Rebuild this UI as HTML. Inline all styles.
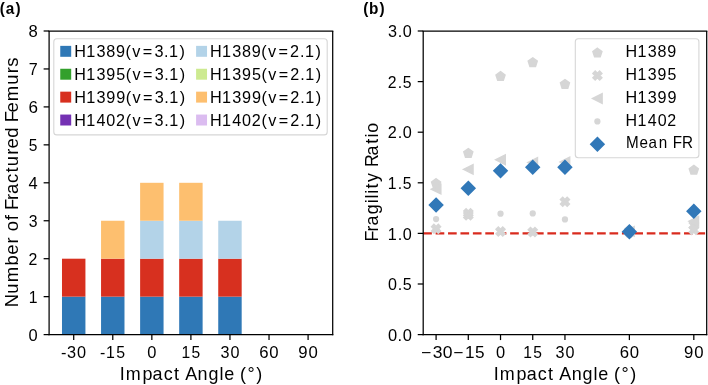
<!DOCTYPE html>
<html><head><meta charset="utf-8"><style>
html,body{margin:0;padding:0;background:#fff;}
svg{display:block;will-change:transform;filter:blur(0.3px);}
text{font-family:"Liberation Sans",sans-serif;}
</style></head><body>
<svg width="708" height="385" viewBox="0 0 708 385">
<rect width="708" height="385" fill="#fff"/>
<rect x="61.99" y="296.65" width="23.44" height="37.95" fill="#2f78b6"/>
<rect x="61.99" y="258.70" width="23.44" height="37.95" fill="#d7301f"/>
<rect x="101.05" y="296.65" width="23.44" height="37.95" fill="#2f78b6"/>
<rect x="101.05" y="258.70" width="23.44" height="37.95" fill="#d7301f"/>
<rect x="101.05" y="220.75" width="23.44" height="37.95" fill="#fdbf6f"/>
<rect x="140.12" y="296.65" width="23.44" height="37.95" fill="#2f78b6"/>
<rect x="140.12" y="258.70" width="23.44" height="37.95" fill="#d7301f"/>
<rect x="140.12" y="220.75" width="23.44" height="37.95" fill="#b3d3e8"/>
<rect x="140.12" y="182.80" width="23.44" height="37.95" fill="#fdbf6f"/>
<rect x="179.18" y="296.65" width="23.44" height="37.95" fill="#2f78b6"/>
<rect x="179.18" y="258.70" width="23.44" height="37.95" fill="#d7301f"/>
<rect x="179.18" y="220.75" width="23.44" height="37.95" fill="#b3d3e8"/>
<rect x="179.18" y="182.80" width="23.44" height="37.95" fill="#fdbf6f"/>
<rect x="218.24" y="296.65" width="23.44" height="37.95" fill="#2f78b6"/>
<rect x="218.24" y="258.70" width="23.44" height="37.95" fill="#d7301f"/>
<rect x="218.24" y="220.75" width="23.44" height="37.95" fill="#b3d3e8"/>
<rect x="53.80" y="38.80" width="273.40" height="96.10" rx="3" fill="#fff" fill-opacity="0.8" stroke="#d6d6d6" stroke-width="1.1"/>
<rect x="60.25" y="45.86" width="10.94" height="10.94" fill="#2f78b6"/>
<text transform="translate(74.19,56.80) scale(1.0084,1)" x="0.01 11.90 22.04 31.81 41.43 50.88 57.58 67.99 79.56 89.10 94.08 104.51" y="0" font-size="16.1" fill="#000">H1389(v=3.1)</text>
<rect x="60.25" y="68.76" width="10.94" height="10.94" fill="#33a02c"/>
<text transform="translate(74.19,79.70) scale(1.0018,1)" x="0.05 12.01 22.21 32.00 41.97 51.49 58.24 68.72 80.36 89.95 94.98 105.46" y="0" font-size="16.1" fill="#000">H1395(v=3.1)</text>
<rect x="60.25" y="91.66" width="10.94" height="10.94" fill="#d7301f"/>
<text transform="translate(74.19,102.60) scale(1.0105,1)" x="-0.00 11.86 21.98 31.69 41.58 51.02 57.70 68.09 79.63 89.16 94.13 104.53" y="0" font-size="16.1" fill="#000">H1399(v=3.1)</text>
<rect x="60.25" y="114.56" width="10.94" height="10.94" fill="#7431b3"/>
<text transform="translate(74.19,125.50) scale(1.0048,1)" x="0.03 11.96 22.11 31.94 41.56 51.20 57.93 68.38 79.98 89.55 94.56 105.01" y="0" font-size="16.1" fill="#000">H1402(v=3.1)</text>
<rect x="196.10" y="45.86" width="10.94" height="10.94" fill="#b3d3e8"/>
<text transform="translate(210.04,56.80) scale(1.0088,1)" x="0.01 11.89 22.03 31.80 41.41 50.86 57.56 67.96 79.30 89.18 94.17 104.58" y="0" font-size="16.1" fill="#000">H1389(v=2.1)</text>
<rect x="196.10" y="68.76" width="10.94" height="10.94" fill="#cdea90"/>
<text transform="translate(210.04,79.70) scale(1.0022,1)" x="0.04 12.00 22.20 31.99 41.95 51.47 58.21 68.69 80.10 90.04 95.07 105.54" y="0" font-size="16.1" fill="#000">H1395(v=2.1)</text>
<rect x="196.10" y="91.66" width="10.94" height="10.94" fill="#fdbf6f"/>
<text transform="translate(210.04,102.60) scale(1.0109,1)" x="-0.01 11.86 21.97 31.67 41.56 51.00 57.68 68.06 79.37 89.24 94.21 104.61" y="0" font-size="16.1" fill="#000">H1399(v=2.1)</text>
<rect x="196.10" y="114.56" width="10.94" height="10.94" fill="#dbbcf0"/>
<text transform="translate(210.04,125.50) scale(1.0052,1)" x="0.03 11.95 22.10 31.93 41.55 51.18 57.90 68.35 79.72 89.64 94.65 105.09" y="0" font-size="16.1" fill="#000">H1402(v=2.1)</text>
<line x1="49.10" y1="31.00" x2="49.10" y2="335.20" stroke="#000" stroke-width="1.25"/>
<line x1="332.70" y1="31.00" x2="332.70" y2="335.20" stroke="#000" stroke-width="1.25"/>
<line x1="48.50" y1="31.00" x2="333.30" y2="31.00" stroke="#000" stroke-width="1.25"/>
<line x1="48.50" y1="334.60" x2="333.30" y2="334.60" stroke="#000" stroke-width="1.25"/>
<line x1="43.63" y1="334.60" x2="49.10" y2="334.60" stroke="#000" stroke-width="1.25"/>
<text transform="translate(28.22,340.70) scale(1.0230,1)" x="0.38" y="0" font-size="16.1" fill="#000">0</text>
<line x1="43.63" y1="296.65" x2="49.10" y2="296.65" stroke="#000" stroke-width="1.25"/>
<text transform="translate(28.22,302.75) scale(0.9771,1)" x="0.53" y="0" font-size="16.1" fill="#000">1</text>
<line x1="43.63" y1="258.70" x2="49.10" y2="258.70" stroke="#000" stroke-width="1.25"/>
<text transform="translate(28.22,264.80) scale(0.9861,1)" x="0.35" y="0" font-size="16.1" fill="#000">2</text>
<line x1="43.63" y1="220.75" x2="49.10" y2="220.75" stroke="#000" stroke-width="1.25"/>
<text transform="translate(28.22,226.85) scale(0.9825,1)" x="0.60" y="0" font-size="16.1" fill="#000">3</text>
<line x1="43.63" y1="182.80" x2="49.10" y2="182.80" stroke="#000" stroke-width="1.25"/>
<text transform="translate(28.22,188.90) scale(1.0232,1)" x="0.38" y="0" font-size="16.1" fill="#000">4</text>
<line x1="43.63" y1="144.85" x2="49.10" y2="144.85" stroke="#000" stroke-width="1.25"/>
<text transform="translate(28.22,150.95) scale(0.9655,1)" x="0.60" y="0" font-size="16.1" fill="#000">5</text>
<line x1="43.63" y1="106.90" x2="49.10" y2="106.90" stroke="#000" stroke-width="1.25"/>
<text transform="translate(28.22,113.00) scale(1.0588,1)" x="0.21" y="0" font-size="16.1" fill="#000">6</text>
<line x1="43.63" y1="68.95" x2="49.10" y2="68.95" stroke="#000" stroke-width="1.25"/>
<text transform="translate(28.22,75.05) scale(1.0007,1)" x="0.46" y="0" font-size="16.1" fill="#000">7</text>
<line x1="43.63" y1="31.00" x2="49.10" y2="31.00" stroke="#000" stroke-width="1.25"/>
<text transform="translate(28.22,37.10) scale(1.0341,1)" x="0.33" y="0" font-size="16.1" fill="#000">8</text>
<line x1="73.71" y1="334.60" x2="73.71" y2="340.07" stroke="#000" stroke-width="1.25"/>
<text transform="translate(60.99,357.50) scale(1.0117,1)" x="0.11 6.01 15.75" y="0" font-size="16.1" fill="#000">-30</text>
<line x1="112.77" y1="334.60" x2="112.77" y2="340.07" stroke="#000" stroke-width="1.25"/>
<text transform="translate(99.93,357.50) scale(0.9870,1)" x="0.18 6.18 16.45" y="0" font-size="16.1" fill="#000">-15</text>
<line x1="151.84" y1="334.60" x2="151.84" y2="340.07" stroke="#000" stroke-width="1.25"/>
<text transform="translate(146.87,357.50) scale(1.0230,1)" x="0.38" y="0" font-size="16.1" fill="#000">0</text>
<line x1="190.90" y1="334.60" x2="190.90" y2="340.07" stroke="#000" stroke-width="1.25"/>
<text transform="translate(180.87,357.50) scale(0.9710,1)" x="0.56 11.00" y="0" font-size="16.1" fill="#000">15</text>
<line x1="229.96" y1="334.60" x2="229.96" y2="340.07" stroke="#000" stroke-width="1.25"/>
<text transform="translate(220.06,357.50) scale(1.0028,1)" x="0.50 10.32" y="0" font-size="16.1" fill="#000">30</text>
<line x1="269.03" y1="334.60" x2="269.03" y2="340.07" stroke="#000" stroke-width="1.25"/>
<text transform="translate(259.06,357.50) scale(1.0406,1)" x="0.30 9.91" y="0" font-size="16.1" fill="#000">60</text>
<line x1="308.09" y1="334.60" x2="308.09" y2="340.07" stroke="#000" stroke-width="1.25"/>
<text transform="translate(298.12,357.50) scale(1.0396,1)" x="0.25 9.92" y="0" font-size="16.1" fill="#000">90</text>
<text transform="translate(119.73,379.90) scale(1.0268,1)" x="0.04 5.90 22.10 32.02 42.76 52.79 58.79 63.80 75.83 86.42 97.17 101.73 111.99 117.03 124.38 132.88" y="0" font-size="17.5" fill="#000">Impact Angle (°)</text>
<text transform="translate(18.40,182.40) rotate(-90) translate(-124.54,0) scale(1.0569,1)" x="-0.24 12.55 23.38 39.19 49.49 60.10 66.39 71.55 82.12 87.32 91.66 101.26 106.88 117.34 127.14 133.07 143.96 149.90 159.99 170.34 174.69 183.96 194.52 210.18 221.07 227.18" y="0" font-size="17.5" fill="#000">Number of Fractured Femurs</text>
<text transform="scale(0.92,1)" x="-0.25 6.25 16.87" y="13.5" font-size="16.7" font-weight="bold" fill="#000">(a)</text>
<line x1="423.20" y1="233.40" x2="706.70" y2="233.40" stroke="#d92b1e" stroke-width="2.34" stroke-dasharray="8.67 3.75"/>
<polygon points="436.09,178.82 440.55,182.06 438.84,187.30 433.33,187.30 431.63,182.06" fill="#d6d6d6" stroke="#d6d6d6" stroke-width="1.5625" stroke-linejoin="miter"/>
<polygon points="468.30,148.66 472.76,151.90 471.06,157.15 465.55,157.15 463.84,151.90" fill="#d6d6d6" stroke="#d6d6d6" stroke-width="1.5625" stroke-linejoin="miter"/>
<polygon points="500.52,71.75 504.98,74.99 503.27,80.23 497.76,80.23 496.06,74.99" fill="#d6d6d6" stroke="#d6d6d6" stroke-width="1.5625" stroke-linejoin="miter"/>
<polygon points="532.73,57.88 537.19,61.13 535.49,66.37 529.98,66.37 528.27,61.13" fill="#d6d6d6" stroke="#d6d6d6" stroke-width="1.5625" stroke-linejoin="miter"/>
<polygon points="564.95,79.64 569.41,82.88 567.71,88.13 562.19,88.13 560.49,82.88" fill="#d6d6d6" stroke="#d6d6d6" stroke-width="1.5625" stroke-linejoin="miter"/>
<polygon points="629.38,225.67 633.84,228.91 632.14,234.16 626.63,234.16 624.92,228.91" fill="#d6d6d6" stroke="#d6d6d6" stroke-width="1.5625" stroke-linejoin="miter"/>
<polygon points="693.81,165.46 698.27,168.70 696.57,173.94 691.06,173.94 689.35,168.70" fill="#d6d6d6" stroke="#d6d6d6" stroke-width="1.5625" stroke-linejoin="miter"/>
<polygon points="438.30,233.27 440.51,231.06 438.30,228.85 440.51,226.64 438.30,224.43 436.09,226.64 433.88,224.43 431.67,226.64 433.88,228.85 431.67,231.06 433.88,233.27 436.09,231.06" fill="#d6d6d6" stroke="#d6d6d6" stroke-width="1.5625" stroke-linejoin="miter"/>
<polygon points="470.51,217.58 472.72,215.37 470.51,213.16 472.72,210.95 470.51,208.74 468.30,210.95 466.09,208.74 463.88,210.95 466.09,213.16 463.88,215.37 466.09,217.58 468.30,215.37" fill="#d6d6d6" stroke="#d6d6d6" stroke-width="1.5625" stroke-linejoin="miter"/>
<polygon points="470.51,219.60 472.72,217.39 470.51,215.18 472.72,212.97 470.51,210.76 468.30,212.97 466.09,210.76 463.88,212.97 466.09,215.18 463.88,217.39 466.09,219.60 468.30,217.39" fill="#d6d6d6" stroke="#d6d6d6" stroke-width="1.5625" stroke-linejoin="miter"/>
<polygon points="502.73,236.00 504.94,233.79 502.73,231.58 504.94,229.37 502.73,227.16 500.52,229.37 498.31,227.16 496.10,229.37 498.31,231.58 496.10,233.79 498.31,236.00 500.52,233.79" fill="#d6d6d6" stroke="#d6d6d6" stroke-width="1.5625" stroke-linejoin="miter"/>
<polygon points="534.94,236.40 537.15,234.19 534.94,231.98 537.15,229.77 534.94,227.56 532.73,229.77 530.52,227.56 528.31,229.77 530.52,231.98 528.31,234.19 530.52,236.40 532.73,234.19" fill="#d6d6d6" stroke="#d6d6d6" stroke-width="1.5625" stroke-linejoin="miter"/>
<polygon points="567.16,206.25 569.37,204.04 567.16,201.83 569.37,199.62 567.16,197.41 564.95,199.62 562.74,197.41 560.53,199.62 562.74,201.83 560.53,204.04 562.74,206.25 564.95,204.04" fill="#d6d6d6" stroke="#d6d6d6" stroke-width="1.5625" stroke-linejoin="miter"/>
<polygon points="631.59,236.81 633.80,234.60 631.59,232.39 633.80,230.18 631.59,227.97 629.38,230.18 627.17,227.97 624.96,230.18 627.17,232.39 624.96,234.60 627.17,236.81 629.38,234.60" fill="#d6d6d6" stroke="#d6d6d6" stroke-width="1.5625" stroke-linejoin="miter"/>
<polygon points="696.02,229.72 698.23,227.51 696.02,225.30 698.23,223.09 696.02,220.88 693.81,223.09 691.60,220.88 689.39,223.09 691.60,225.30 689.39,227.51 691.60,229.72 693.81,227.51" fill="#d6d6d6" stroke="#d6d6d6" stroke-width="1.5625" stroke-linejoin="miter"/>
<polygon points="696.02,234.28 698.23,232.07 696.02,229.86 698.23,227.65 696.02,225.44 693.81,227.65 691.60,225.44 689.39,227.65 691.60,229.86 689.39,232.07 691.60,234.28 693.81,232.07" fill="#d6d6d6" stroke="#d6d6d6" stroke-width="1.5625" stroke-linejoin="miter"/>
<polygon points="431.40,189.18 440.77,184.49 440.77,193.86" fill="#d6d6d6" stroke="#d6d6d6" stroke-width="1.5625" stroke-linejoin="miter"/>
<polygon points="463.61,169.34 472.99,164.65 472.99,174.03" fill="#d6d6d6" stroke="#d6d6d6" stroke-width="1.5625" stroke-linejoin="miter"/>
<polygon points="495.83,159.73 505.21,155.04 505.21,164.41" fill="#d6d6d6" stroke="#d6d6d6" stroke-width="1.5625" stroke-linejoin="miter"/>
<polygon points="528.05,162.56 537.42,157.87 537.42,167.25" fill="#d6d6d6" stroke="#d6d6d6" stroke-width="1.5625" stroke-linejoin="miter"/>
<polygon points="560.26,162.05 569.64,157.37 569.64,166.74" fill="#d6d6d6" stroke="#d6d6d6" stroke-width="1.5625" stroke-linejoin="miter"/>
<polygon points="624.69,231.38 634.07,226.69 634.07,236.06" fill="#d6d6d6" stroke="#d6d6d6" stroke-width="1.5625" stroke-linejoin="miter"/>
<polygon points="689.13,221.26 698.50,216.57 698.50,225.94" fill="#d6d6d6" stroke="#d6d6d6" stroke-width="1.5625" stroke-linejoin="miter"/>
<circle cx="436.09" cy="219.03" r="3.13" fill="#d6d6d6"/>
<circle cx="468.30" cy="215.18" r="3.13" fill="#d6d6d6"/>
<circle cx="500.52" cy="213.67" r="3.13" fill="#d6d6d6"/>
<circle cx="532.73" cy="213.46" r="3.13" fill="#d6d6d6"/>
<circle cx="564.95" cy="219.43" r="3.13" fill="#d6d6d6"/>
<circle cx="629.38" cy="232.39" r="3.13" fill="#d6d6d6"/>
<circle cx="693.81" cy="228.34" r="3.13" fill="#d6d6d6"/>
<polygon points="436.09,198.33 442.72,204.96 436.09,211.59 429.46,204.96" fill="#3178b8" stroke="#3178b8" stroke-width="1.5625" stroke-linejoin="miter"/>
<polygon points="468.30,181.64 474.93,188.26 468.30,194.89 461.67,188.26" fill="#3178b8" stroke="#3178b8" stroke-width="1.5625" stroke-linejoin="miter"/>
<polygon points="500.52,164.23 507.15,170.86 500.52,177.49 493.89,170.86" fill="#3178b8" stroke="#3178b8" stroke-width="1.5625" stroke-linejoin="miter"/>
<polygon points="532.73,160.59 539.36,167.22 532.73,173.84 526.10,167.22" fill="#3178b8" stroke="#3178b8" stroke-width="1.5625" stroke-linejoin="miter"/>
<polygon points="564.95,160.59 571.58,167.22 564.95,173.84 558.32,167.22" fill="#3178b8" stroke="#3178b8" stroke-width="1.5625" stroke-linejoin="miter"/>
<polygon points="629.38,225.05 636.01,231.68 629.38,238.31 622.75,231.68" fill="#3178b8" stroke="#3178b8" stroke-width="1.5625" stroke-linejoin="miter"/>
<polygon points="693.81,204.61 700.44,211.24 693.81,217.87 687.18,211.24" fill="#3178b8" stroke="#3178b8" stroke-width="1.5625" stroke-linejoin="miter"/>
<rect x="575.30" y="38.80" width="123.60" height="119.00" rx="3" fill="#fff" fill-opacity="0.8" stroke="#d6d6d6" stroke-width="1.1"/>
<polygon points="597.40,48.31 601.86,51.55 600.16,56.79 594.64,56.79 592.94,51.55" fill="#d6d6d6" stroke="#d6d6d6" stroke-width="1.5625" stroke-linejoin="miter"/>
<text transform="translate(625.50,56.80) scale(1.0020,1)" x="0.05 12.00 22.21 32.04 41.72" y="0" font-size="16.1" fill="#000">H1389</text>
<polygon points="599.61,80.02 601.82,77.81 599.61,75.60 601.82,73.39 599.61,71.18 597.40,73.39 595.19,71.18 592.98,73.39 595.19,75.60 592.98,77.81 595.19,80.02 597.40,77.81" fill="#d6d6d6" stroke="#d6d6d6" stroke-width="1.5625" stroke-linejoin="miter"/>
<text transform="translate(625.50,79.70) scale(0.9885,1)" x="0.13 12.23 22.57 32.49 42.60" y="0" font-size="16.1" fill="#000">H1395</text>
<polygon points="592.71,98.50 602.09,93.81 602.09,103.19" fill="#d6d6d6" stroke="#d6d6d6" stroke-width="1.5625" stroke-linejoin="miter"/>
<text transform="translate(625.50,102.60) scale(1.0062,1)" x="0.02 11.93 22.10 31.84 41.78" y="0" font-size="16.1" fill="#000">H1399</text>
<circle cx="597.40" cy="121.40" r="3.13" fill="#d6d6d6"/>
<text transform="translate(625.50,125.50) scale(0.9947,1)" x="0.09 12.12 22.38 32.31 42.03" y="0" font-size="16.1" fill="#000">H1402</text>
<polygon points="597.40,137.67 604.03,144.30 597.40,150.93 590.77,144.30" fill="#3178b8" stroke="#3178b8" stroke-width="1.5625" stroke-linejoin="miter"/>
<text transform="translate(625.50,148.40) scale(0.9463,1)" x="0.42 14.77 24.42 35.27 45.30 50.02 59.78" y="0" font-size="16.1" fill="#000">Mean FR</text>
<line x1="423.20" y1="31.00" x2="423.20" y2="335.20" stroke="#000" stroke-width="1.25"/>
<line x1="706.70" y1="31.00" x2="706.70" y2="335.20" stroke="#000" stroke-width="1.25"/>
<line x1="422.60" y1="31.00" x2="707.30" y2="31.00" stroke="#000" stroke-width="1.25"/>
<line x1="422.60" y1="334.60" x2="707.30" y2="334.60" stroke="#000" stroke-width="1.25"/>
<line x1="417.73" y1="334.60" x2="423.20" y2="334.60" stroke="#000" stroke-width="1.25"/>
<text transform="translate(387.57,340.70) scale(1.0255,1)" x="0.37 9.81 14.75" y="0" font-size="16.1" fill="#000">0.0</text>
<line x1="417.73" y1="284.00" x2="423.20" y2="284.00" stroke="#000" stroke-width="1.25"/>
<text transform="translate(387.57,290.10) scale(0.9995,1)" x="0.49 10.12 15.19" y="0" font-size="16.1" fill="#000">0.5</text>
<line x1="417.73" y1="233.40" x2="423.20" y2="233.40" stroke="#000" stroke-width="1.25"/>
<text transform="translate(387.32,239.50) scale(1.0059,1)" x="0.38 10.29 15.37" y="0" font-size="16.1" fill="#000">1.0</text>
<line x1="417.73" y1="182.80" x2="423.20" y2="182.80" stroke="#000" stroke-width="1.25"/>
<text transform="translate(387.32,188.90) scale(0.9785,1)" x="0.52 10.64 15.87" y="0" font-size="16.1" fill="#000">1.5</text>
<line x1="417.73" y1="132.20" x2="423.20" y2="132.20" stroke="#000" stroke-width="1.25"/>
<text transform="translate(387.44,138.30) scale(1.0092,1)" x="0.24 10.13 15.18" y="0" font-size="16.1" fill="#000">2.0</text>
<line x1="417.73" y1="81.60" x2="423.20" y2="81.60" stroke="#000" stroke-width="1.25"/>
<text transform="translate(387.44,87.70) scale(0.9825,1)" x="0.37 10.46 15.66" y="0" font-size="16.1" fill="#000">2.5</text>
<line x1="417.73" y1="31.00" x2="423.20" y2="31.00" stroke="#000" stroke-width="1.25"/>
<text transform="translate(387.57,37.10) scale(1.0071,1)" x="0.48 10.03 15.10" y="0" font-size="16.1" fill="#000">3.0</text>
<line x1="436.09" y1="334.60" x2="436.09" y2="340.07" stroke="#000" stroke-width="1.25"/>
<text transform="translate(419.62,357.50) scale(1.0865,1)" x="1.32 12.20 21.26" y="0" font-size="16.1" fill="#000">−30</text>
<line x1="468.30" y1="334.60" x2="468.30" y2="340.07" stroke="#000" stroke-width="1.25"/>
<text transform="translate(451.71,357.50) scale(1.0686,1)" x="1.42 12.37 21.87" y="0" font-size="16.1" fill="#000">−15</text>
<line x1="500.52" y1="334.60" x2="500.52" y2="340.07" stroke="#000" stroke-width="1.25"/>
<text transform="translate(495.55,357.50) scale(1.0230,1)" x="0.38" y="0" font-size="16.1" fill="#000">0</text>
<line x1="532.73" y1="334.60" x2="532.73" y2="340.07" stroke="#000" stroke-width="1.25"/>
<text transform="translate(522.70,357.50) scale(0.9710,1)" x="0.56 11.00" y="0" font-size="16.1" fill="#000">15</text>
<line x1="564.95" y1="334.60" x2="564.95" y2="340.07" stroke="#000" stroke-width="1.25"/>
<text transform="translate(555.04,357.50) scale(1.0028,1)" x="0.50 10.32" y="0" font-size="16.1" fill="#000">30</text>
<line x1="629.38" y1="334.60" x2="629.38" y2="340.07" stroke="#000" stroke-width="1.25"/>
<text transform="translate(619.41,357.50) scale(1.0406,1)" x="0.30 9.91" y="0" font-size="16.1" fill="#000">60</text>
<line x1="693.81" y1="334.60" x2="693.81" y2="340.07" stroke="#000" stroke-width="1.25"/>
<text transform="translate(683.84,357.50) scale(1.0396,1)" x="0.25 9.92" y="0" font-size="16.1" fill="#000">90</text>
<text transform="translate(493.78,379.90) scale(1.0268,1)" x="0.04 5.90 22.10 32.02 42.76 52.79 58.79 63.80 75.83 86.42 97.17 101.73 111.99 117.03 124.38 132.88" y="0" font-size="17.5" fill="#000">Impact Angle (°)</text>
<text transform="translate(378.00,181.80) rotate(-90) translate(-59.26,0) scale(1.0154,1)" x="-0.50 9.39 15.32 26.50 37.35 42.02 46.70 51.81 58.24 67.97 72.96 84.26 95.88 102.10 106.68" y="0" font-size="17.5" fill="#000">Fragility Ratio</text>
<text transform="scale(0.92,1)" x="394.86 401.21 412.63" y="13.5" font-size="16.7" font-weight="bold" fill="#000">(b)</text>
</svg>
</body></html>
